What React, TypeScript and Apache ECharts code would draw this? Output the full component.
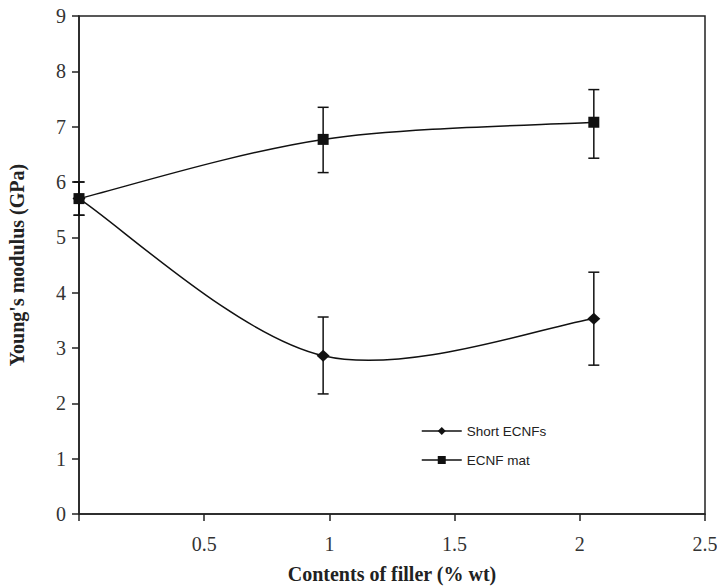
import React, { useEffect, useRef } from "react";
import * as echarts from "echarts";

const xValues = [0, 0.975, 2.056];
const shortValues = [5.7, 2.86, 3.53];
const shortLow = [5.4, 2.17, 2.69];
const shortHigh = [6.0, 3.56, 4.37];
const matValues = [5.7, 6.77, 7.08];
const matLow = [5.4, 6.17, 6.43];
const matHigh = [6.0, 7.35, 7.67];
const xTicks = [0, 0.5, 1, 1.5, 2, 2.5];
const yTicks = [0, 1, 2, 3, 4, 5, 6, 7, 8, 9];

const errorRender = (params: any, api: any) => {
  const x = api.value(0);
  const lo = api.coord([x, api.value(1)]);
  const hi = api.coord([x, api.value(2)]);
  const w = 5.5;
  const style = { stroke: "#111", lineWidth: 1.5 };
  return {
    type: "group",
    children: [
      { type: "line", shape: { x1: lo[0], y1: lo[1], x2: hi[0], y2: hi[1] }, style },
      { type: "line", shape: { x1: lo[0] - w, y1: lo[1], x2: lo[0] + w, y2: lo[1] }, style },
      { type: "line", shape: { x1: hi[0] - w, y1: hi[1], x2: hi[0] + w, y2: hi[1] }, style },
    ],
  };
};

// Excel-style smoothed segments (Catmull-Rom as cubic Bezier), built in pixel space
const segmentData = (ys: number[]) =>
  xValues.slice(0, -1).map((x, i) => {
    const prev = Math.max(i - 1, 0);
    const next = Math.min(i + 2, xValues.length - 1);
    return [x, ys[i], xValues[i + 1], ys[i + 1], xValues[prev], ys[prev], xValues[next], ys[next]];
  });

const curveRender = (params: any, api: any) => {
  const p1 = api.coord([api.value(0), api.value(1)]);
  const p2 = api.coord([api.value(2), api.value(3)]);
  const p0 = api.coord([api.value(4), api.value(5)]);
  const p3 = api.coord([api.value(6), api.value(7)]);
  return {
    type: "bezierCurve",
    shape: {
      x1: p1[0],
      y1: p1[1],
      x2: p2[0],
      y2: p2[1],
      cpx1: p1[0] + (p2[0] - p0[0]) / 6,
      cpy1: p1[1] + (p2[1] - p0[1]) / 6,
      cpx2: p2[0] - (p3[0] - p1[0]) / 6,
      cpy2: p2[1] - (p3[1] - p1[1]) / 6,
    },
    style: { stroke: "#111", lineWidth: 1.5, fill: "none" },
  };
};

export default function App() {
  const ref = useRef<HTMLDivElement>(null);
  useEffect(() => {
    const chart = echarts.init(ref.current!, undefined, { renderer: "svg" });
    const serif = "'Liberation Serif', 'Times New Roman', serif";
    const dims = ["x1", "y1", "x2", "y2", "x0", "y0", "x3", "y3"];
    chart.setOption({
      animation: false,
      backgroundColor: "#fff",
      grid: {
        left: 79,
        right: 12,
        top: 16,
        bottom: 73,
        containLabel: false,
        outerBoundsMode: "none",
        show: true,
        borderColor: "#222",
        borderWidth: 1.5,
        backgroundColor: "transparent",
      },
      legend: {
        orient: "vertical",
        left: 416,
        top: 419,
        itemWidth: 40,
        itemHeight: 10,
        itemGap: 15,
        lineStyle: { color: "#111", width: 1.5, opacity: 1 },
        textStyle: { fontFamily: "'Liberation Sans', Arial, sans-serif", fontSize: 13.5, color: "#222" },
        data: ["Short ECNFs", "ECNF mat"],
      },
      xAxis: {
        type: "value",
        min: xTicks[0],
        max: xTicks[xTicks.length - 1],
        interval: 0.5,
        name: "Contents of filler (% wt)",
        nameLocation: "middle",
        nameGap: 50,
        nameTextStyle: { fontFamily: serif, fontSize: 20, fontWeight: "bold", color: "#222", lineHeight: 20 },
        axisLine: { lineStyle: { color: "#222", width: 1.5 } },
        axisTick: { show: true, inside: false, length: 7, lineStyle: { color: "#222", width: 1.5 } },
        axisLabel: {
          fontFamily: serif,
          fontSize: 20,
          color: "#333",
          margin: 20,
          formatter: (v: number) => (v === 0 ? "" : String(v)),
        },
        splitLine: { show: false },
      },
      yAxis: {
        type: "value",
        min: yTicks[0],
        max: yTicks[yTicks.length - 1],
        interval: 1,
        name: "Young's modulus (GPa)",
        nameLocation: "middle",
        nameGap: 52,
        nameTextStyle: { fontFamily: serif, fontSize: 20, fontWeight: "bold", color: "#222" },
        axisLine: { lineStyle: { color: "#222", width: 1.5 } },
        axisTick: { show: true, inside: false, length: 7, lineStyle: { color: "#222", width: 1.5 } },
        axisLabel: { fontFamily: serif, fontSize: 20, color: "#333", margin: 13 },
        splitLine: { show: false },
      },
      series: [
        {
          type: "custom",
          renderItem: errorRender,
          data: xValues.map((x, i) => [x, shortLow[i], shortHigh[i]]),
          encode: { x: 0, y: [1, 2] },
          z: 1,
          silent: true,
        },
        {
          type: "custom",
          renderItem: errorRender,
          data: xValues.map((x, i) => [x, matLow[i], matHigh[i]]),
          encode: { x: 0, y: [1, 2] },
          z: 1,
          silent: true,
        },
        {
          type: "custom",
          renderItem: curveRender,
          dimensions: dims,
          data: segmentData(shortValues),
          encode: { x: [0, 2], y: [1, 3] },
          z: 2,
          silent: true,
        },
        {
          type: "custom",
          renderItem: curveRender,
          dimensions: dims,
          data: segmentData(matValues),
          encode: { x: [0, 2], y: [1, 3] },
          z: 2,
          silent: true,
        },
        {
          name: "Short ECNFs",
          type: "line",
          data: xValues.map((x, i) => [x, shortValues[i]]),
          symbol: "diamond",
          symbolSize: [13, 12],
          lineStyle: { color: "#111", width: 1.5, opacity: 0 },
          itemStyle: { color: "#111" },
          z: 3,
        },
        {
          name: "ECNF mat",
          type: "line",
          data: xValues.map((x, i) => [x, matValues[i]]),
          symbol: "rect",
          symbolSize: 11,
          lineStyle: { color: "#111", width: 1.5, opacity: 0 },
          itemStyle: { color: "#111" },
          z: 4,
        },
      ],
    });
    return () => chart.dispose();
  }, []);
  return (
    <div
      ref={ref}
      style={{ position: "fixed", left: 0, top: 0, width: 717, height: 587 }}
    />
  );
}
